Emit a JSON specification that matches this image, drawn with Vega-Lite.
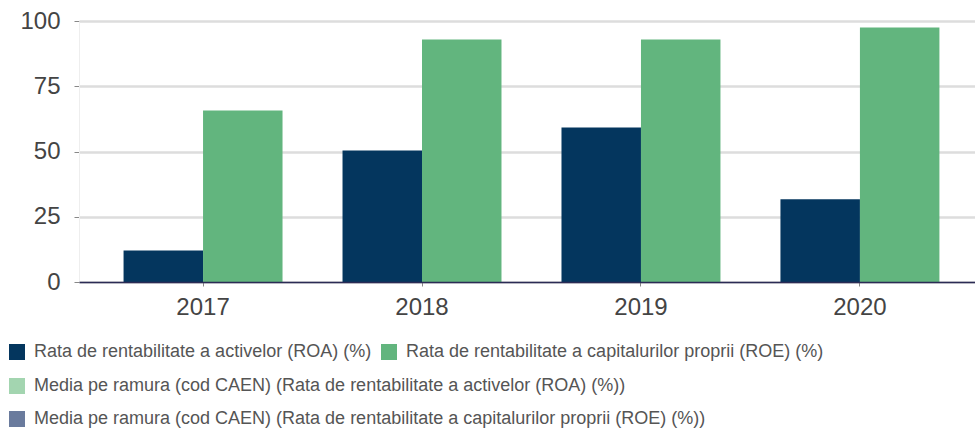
{
  "$schema": "https://vega.github.io/schema/vega-lite/v6.json",
  "width": 896,
  "height": 261,
  "autosize": {"type": "none"},
  "padding": {"left": 79, "top": 21, "right": 0, "bottom": 148},
  "config": {"view": {"stroke": null}, "font": "Liberation Sans"},
  "data": {
    "values": [
      {"year": "2017", "series": "Rata de rentabilitate a activelor (ROA) (%)", "type": "firm", "value": 12.1},
      {"year": "2017", "series": "Rata de rentabilitate a capitalurilor proprii (ROE) (%)", "type": "firm", "value": 65.7},
      {"year": "2018", "series": "Rata de rentabilitate a activelor (ROA) (%)", "type": "firm", "value": 50.4},
      {"year": "2018", "series": "Rata de rentabilitate a capitalurilor proprii (ROE) (%)", "type": "firm", "value": 92.9},
      {"year": "2019", "series": "Rata de rentabilitate a activelor (ROA) (%)", "type": "firm", "value": 59.2},
      {"year": "2019", "series": "Rata de rentabilitate a capitalurilor proprii (ROE) (%)", "type": "firm", "value": 92.9},
      {"year": "2020", "series": "Rata de rentabilitate a activelor (ROA) (%)", "type": "firm", "value": 31.7},
      {"year": "2020", "series": "Rata de rentabilitate a capitalurilor proprii (ROE) (%)", "type": "firm", "value": 97.5},
      {"year": "2017", "series": "Media pe ramura (cod CAEN) (Rata de rentabilitate a activelor (ROA) (%))", "type": "media", "value": 0},
      {"year": "2017", "series": "Media pe ramura (cod CAEN) (Rata de rentabilitate a capitalurilor proprii (ROE) (%))", "type": "media", "value": 0}
    ]
  },
  "layer": [
    {
      "transform": [{"filter": "datum.type == 'firm'"}],
      "mark": {"type": "bar"},
      "encoding": {
        "x": {
          "field": "year", "type": "nominal",
          "scale": {"paddingInner": 0.274, "paddingOuter": 0.183, "align": 0.556},
          "axis": {"title": null, "labelAngle": 0, "labelFontSize": 24, "labelColor": "#444444", "tickColor": "#888888", "tickSize": 4, "labelPadding": 9, "domainColor": "#2b2b55", "domainWidth": 1.5, "grid": false, "zindex": 1}
        },
        "xOffset": {"field": "series", "type": "nominal", "sort": ["Rata de rentabilitate a activelor (ROA) (%)", "Rata de rentabilitate a capitalurilor proprii (ROE) (%)"]},
        "y": {
          "field": "value", "type": "quantitative",
          "scale": {"domain": [0, 100], "nice": false},
          "axis": {"title": null, "values": [0, 25, 50, 75, 100], "labelFontSize": 24, "labelColor": "#444444", "tickColor": "#888888", "tickSize": 5, "labelPadding": 14, "gridColor": "#dddddd", "gridWidth": 2.5, "domainColor": "#eeeeee"}
        },
        "color": {
          "field": "series", "type": "nominal",
          "scale": {"domain": ["Rata de rentabilitate a activelor (ROA) (%)", "Rata de rentabilitate a capitalurilor proprii (ROE) (%)"], "range": ["#04365e", "#62b57e"]},
          "legend": {"title": null, "orient": "none", "legendX": -71, "legendY": 322, "direction": "horizontal", "symbolType": "square", "symbolSize": 256, "symbolStrokeWidth": 0, "labelFontSize": 18, "labelColor": "#555555", "labelLimit": 900, "labelOffset": 8, "columnPadding": 8}
        }
      }
    },
    {
      "transform": [{"filter": "datum.type == 'media'"}],
      "mark": {"type": "bar"},
      "encoding": {
        "x": {"field": "year", "type": "nominal"},
        "y": {"field": "value", "type": "quantitative"},
        "fill": {
          "field": "series", "type": "nominal",
          "scale": {"domain": ["Media pe ramura (cod CAEN) (Rata de rentabilitate a activelor (ROA) (%))", "Media pe ramura (cod CAEN) (Rata de rentabilitate a capitalurilor proprii (ROE) (%))"], "range": ["#a3d5b0", "#6a7b9d"]},
          "legend": {"title": null, "orient": "none", "legendX": -71, "legendY": 356, "direction": "vertical", "symbolType": "square", "symbolSize": 256, "symbolStrokeWidth": 0, "labelFontSize": 18, "labelColor": "#555555", "labelLimit": 900, "labelOffset": 8, "rowPadding": 15}
        }
      }
    }
  ]
}
